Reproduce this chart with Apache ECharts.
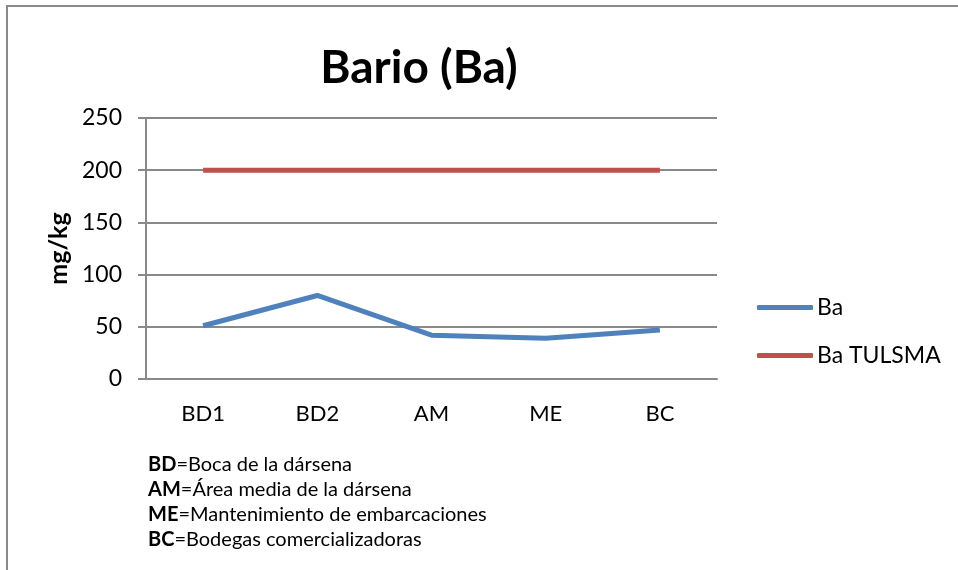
<!DOCTYPE html>
<html>
<head>
<meta charset="utf-8">
<script src="https://cdn.jsdelivr.net/npm/echarts@6/dist/echarts.min.js"></script>
<style>
  html, body { margin: 0; padding: 0; background: #fff; }
  #chart { width: 958px; height: 570px; }
</style>
</head>
<body>
<div id="chart"></div>
<script>
// datos
const categories = ['BD1', 'BD2', 'AM', 'ME', 'BC']
const baValues = [51, 80, 42, 39, 47]
const tulsmaValues = [200, 200, 200, 200, 200]
const notes = [
  ['BD', 'Boca de la dársena'],
  ['AM', 'Área media de la dársena'],
  ['ME', 'Mantenimiento de embarcaciones'],
  ['BC', 'Bodegas comercializadoras']
]

const font = 'Lato, "Open Sans", sans-serif'
const gridColor = '#898989'

const chart = echarts.init(document.getElementById('chart'))

chart.setOption({
  animation: false,
  textStyle: { fontFamily: font },
  title: {
    text: 'Bario (Ba)',
    left: 414,
    textAlign: 'center',
    top: 40,
    textStyle: { fontSize: 46, fontWeight: 'bold', color: '#000', fontFamily: font }
  },
  legend: {
    orient: 'vertical',
    left: 752,
    top: 291,
    itemWidth: 56,
    itemHeight: 5,
    itemGap: 25,
    icon: 'roundRect',
    textStyle: { fontSize: 23, color: '#000', fontFamily: font, padding: [0, 0, 0, -1] },
    data: ['Ba', 'Ba TULSMA']
  },
  grid: { left: 146, right: 241, top: 118, bottom: 191 },
  xAxis: {
    type: 'category',
    data: categories,
    axisLine: { lineStyle: { color: gridColor, width: 2 } },
    axisTick: { show: false },
    axisLabel: { fontSize: 22, color: '#000', margin: 24, fontFamily: font }
  },
  yAxis: {
    type: 'value',
    min: 0,
    max: 250,
    interval: 50,
    name: 'mg/kg',
    nameLocation: 'middle',
    nameGap: 74,
    nameTextStyle: { fontSize: 25, fontWeight: 'bold', color: '#000', fontFamily: font },
    axisLine: { show: true, lineStyle: { color: gridColor, width: 2 } },
    axisTick: { show: true, length: 8, lineStyle: { color: gridColor, width: 2 } },
    axisLabel: { fontSize: 23, color: '#000', margin: 24, fontFamily: font },
    splitLine: { lineStyle: { color: gridColor, width: 2 } }
  },
  series: [
    {
      name: 'Ba',
      type: 'line',
      data: baValues,
      symbol: 'none',
      color: '#4F81BD',
      lineStyle: { width: 5, color: '#4F81BD' }
    },
    {
      name: 'Ba TULSMA',
      type: 'line',
      data: tulsmaValues,
      symbol: 'none',
      color: '#C0504D',
      lineStyle: { width: 5, color: '#C0504D' }
    }
  ],
  graphic: [
    {
      type: 'rect',
      shape: { x: 7, y: 6, width: 1000, height: 700 },
      style: { fill: 'none', stroke: '#8a8a8a', lineWidth: 2 },
      silent: true
    },
    {
      type: 'text',
      left: 148,
      top: 452,
      style: {
        text: notes.map(n => '{b|' + n[0] + '}=' + n[1]).join('\n'),
        font: '20px ' + font,
        fill: '#000',
        lineHeight: 25,
        rich: { b: { fontWeight: 'bold', fontSize: 20, fontFamily: font, fill: '#000', lineHeight: 25 } }
      }
    }
  ]
})
</script>
</body>
</html>
